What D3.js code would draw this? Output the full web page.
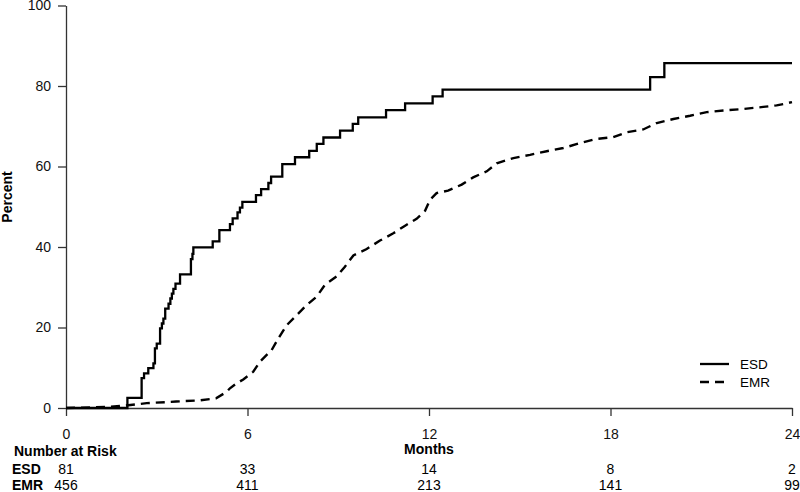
<!DOCTYPE html>
<html><head><meta charset="utf-8">
<script src="https://cdn.jsdelivr.net/npm/d3@7"></script>
<style>
html,body{margin:0;padding:0;background:#fff;}
svg{display:block;font-family:"Liberation Sans",Arial,Helvetica,sans-serif;}
</style></head>
<body>
<svg id="chart" width="800" height="492"></svg>
<script>
const xTicks = [0, 6, 12, 18, 24];
const yTicks = [0, 20, 40, 60, 80, 100];
const groups = ["ESD", "EMR"];
const riskESD = [81, 33, 14, 8, 2];
const riskEMR = [456, 411, 213, 141, 99];

const esdMonths = [0, 2.03, 2.50, 2.58, 2.72, 2.89, 2.94, 3.00, 3.11, 3.17, 3.22, 3.28, 3.39, 3.45, 3.50, 3.55, 3.62, 3.77, 4.13, 4.18, 4.21,
  4.85, 5.07, 5.42, 5.51, 5.67, 5.75, 5.83, 6.28, 6.45, 6.69, 6.78, 7.15, 7.57, 8.04, 8.29, 8.51, 9.06, 9.48, 9.66, 10.58, 11.21, 12.12, 12.45, 19.31, 19.78, 24];
const esdPercent = [0, 2.5, 7.4, 8.6, 9.9, 11.1, 14.8, 16.0, 19.8, 21.0, 22.2, 24.7, 25.9, 27.2, 28.4, 29.6, 30.9, 33.2, 37.0, 38.3, 39.9,
  41.4, 44.2, 45.7, 47.1, 48.6, 49.8, 51.2, 52.9, 54.4, 55.9, 57.5, 60.6, 62.3, 63.9, 65.6, 67.2, 68.9, 70.6, 72.2, 74.0, 75.7, 77.4, 79.1, 82.2, 85.7, 85.7];

const emrMonths = [0, 1.45, 1.95, 2.67, 3.64, 4.43, 4.96, 5.31, 5.42, 5.62, 5.86, 6.19, 6.41, 6.61, 6.80, 7.02, 7.30, 7.63, 7.96, 8.29, 8.56, 8.95, 9.22, 9.50, 9.94,
  10.38, 10.82, 11.21, 11.59, 11.87, 12.03, 12.25, 12.63, 13.08, 13.46, 13.91, 14.24, 14.79, 15.34, 15.89, 16.44, 16.99, 17.49, 18.09, 18.54, 19.08, 19.53,
  20.08, 20.63, 21.18, 21.73, 22.39, 23.05, 23.49, 23.77, 24];
const emrPercent = [0, 0.3, 0.6, 1.2, 1.6, 1.9, 2.4, 4.0, 4.9, 6.0, 7.1, 9.0, 11.5, 13.0, 14.4, 17.3, 20.6, 23.1, 25.6, 27.7, 30.6, 32.7, 35.1, 37.9, 39.5,
  41.6, 43.4, 45.3, 47.0, 49.0, 51.7, 53.4, 54.0, 55.5, 57.3, 58.8, 60.8, 62.1, 62.9, 63.8, 64.6, 65.8, 66.8, 67.3, 68.5, 69.2, 70.8,
  71.8, 72.6, 73.5, 73.9, 74.3, 74.8, 75.2, 75.6, 76.0];

const svg = d3.select("#chart");
const x = d3.scaleLinear().domain([0, 24]).range([66, 792]);
const y = d3.scaleLinear().domain([0, 100]).range([408, 5.5]);
const FONT = 14;

// axes
const yAxis = svg.append("g").attr("transform", `translate(${x(0)},0)`)
  .call(d3.axisLeft(y).tickValues(yTicks).tickSize(8).tickSizeOuter(0).tickPadding(7));
const xAxis = svg.append("g").attr("transform", `translate(0,${y(0)})`)
  .call(d3.axisBottom(x).tickValues(xTicks).tickSize(8).tickSizeOuter(0).tickPadding(13));
[yAxis, xAxis].forEach(g => {
  g.selectAll("path,line").attr("stroke", "#333").attr("stroke-width", 1.3);
  g.selectAll("text").attr("font-size", FONT).attr("fill", "#111").attr("font-family", "Liberation Sans, Arial, sans-serif");
});

// axis titles
svg.append("text").attr("transform", `translate(12,197) rotate(-90)`)
  .attr("text-anchor", "middle").attr("font-weight", "bold").attr("font-size", FONT).text("Percent");
svg.append("text").attr("x", x(12)).attr("y", 454).attr("text-anchor", "middle")
  .attr("font-weight", "bold").attr("font-size", FONT).text("Months");

// curves
const esd = esdMonths.map((m, i) => [m, esdPercent[i]]);
const emr = emrMonths.map((m, i) => [m, emrPercent[i]]);
const stepLine = d3.line().x(d => x(d[0])).y(d => y(d[1])).curve(d3.curveStepAfter);
const smoothLine = d3.line().x(d => x(d[0])).y(d => y(d[1])).curve(d3.curveLinear);
svg.append("path").datum(emr).attr("d", smoothLine).attr("fill", "none")
  .attr("stroke", "#000").attr("stroke-width", 2.4).attr("stroke-dasharray", "9,6");
svg.append("path").datum(esd).attr("d", stepLine).attr("fill", "none")
  .attr("stroke", "#000").attr("stroke-width", 2.3);

// legend
const leg = svg.append("g");
[["ESD", null, 364], ["EMR", "9,6", 382]].forEach(([lab, dash, ly]) => {
  leg.append("line").attr("x1", 700).attr("x2", 729).attr("y1", ly).attr("y2", ly)
    .attr("stroke", "#000").attr("stroke-width", 2.3).attr("stroke-dasharray", dash);
  leg.append("text").attr("x", 740).attr("y", ly + 5).attr("font-size", 13.5).text(lab);
});

// risk table
svg.append("text").attr("x", 14).attr("y", 456).attr("font-weight", "bold").attr("font-size", FONT).text("Number at Risk");
const rows = [riskESD, riskEMR];
const rowY = [474, 490];
groups.forEach((g, gi) => {
  svg.append("text").attr("x", 12).attr("y", rowY[gi]).attr("font-weight", "bold").attr("font-size", FONT).text(g);
  svg.selectAll(null).data(rows[gi]).enter().append("text")
    .attr("x", (d, i) => x(xTicks[i])).attr("y", rowY[gi]).attr("text-anchor", "middle")
    .attr("font-size", FONT).text(d => d);
});
</script>
</body></html>
